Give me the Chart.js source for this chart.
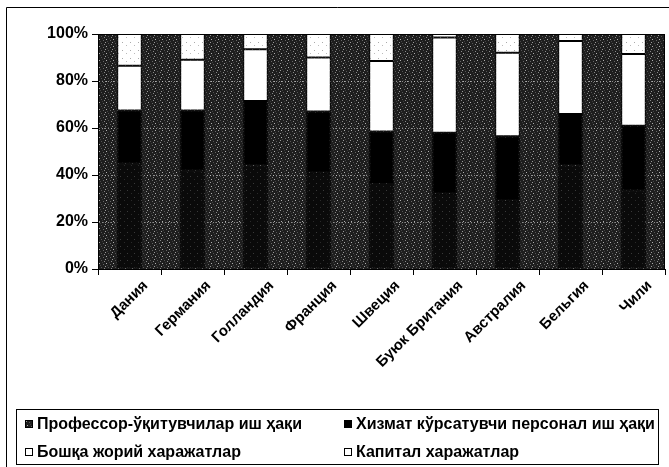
<!DOCTYPE html>
<html>
<head>
<meta charset="utf-8">
<script src="https://cdn.jsdelivr.net/npm/chart.js@4.4.0/dist/chart.umd.min.js"></script>
<style>
  html, body { margin: 0; padding: 0; background: #fff; }
  #wrap { position: relative; width: 669px; height: 467px; overflow: hidden; font-family: "Liberation Sans", Arial, sans-serif; }
  #c { position: absolute; left: 0; top: 0; }
  #legend { position: absolute; left: 16px; top: 409px; width: 643px; height: 56px; border: 1px solid #000; box-sizing: border-box; }
  .li { position: absolute; height: 20px; line-height: 20px; font-size: 16px; font-weight: bold; color: #000; white-space: nowrap; }
  .sw { position: absolute; width: 8px; height: 8px; border: 1px solid #000; box-sizing: border-box; top: 6px; left: 0; }
  .tx { position: absolute; left: 12px; top: 0; }
</style>
</head>
<body>
<div id="wrap">
  <canvas id="c" width="669" height="467" style="width:669px;height:467px"></canvas>
  <div id="legend"></div>
</div>
<script>
// ---- data ----
const categories = ['Дания','Германия','Голландия','Франция','Швеция','Буюк Британия','Австралия','Бельгия','Чили'];
const seriesNames = ['Профессор-ўқитувчилар иш ҳақи','Хизмат кўрсатувчи персонал иш ҳақи','Бошқа жорий харажатлар','Капитал харажатлар'];
const professor = [45, 42, 44, 41, 37, 32, 29, 44, 33.5];
const service   = [22.5, 25.5, 27.5, 26, 21.5, 26, 27.5, 22, 27.5];
const other     = [19, 21.5, 22, 23, 30, 40.5, 35.5, 31, 30.5];
const capital   = [13.5, 11, 6.5, 10, 11.5, 1.5, 8, 3, 8.5];
const yTicks = [0, 20, 40, 60, 80, 100];

// ---- fill textures (fixed dot layouts) ----
function makeTile(size, base, dots) {
  const t = document.createElement('canvas');
  t.width = size; t.height = size;
  const g = t.getContext('2d');
  g.fillStyle = base; g.fillRect(0, 0, size, size);
  dots.forEach(d => { g.fillStyle = d[2]; g.fillRect(d[0], d[1], 1, 1); });
  return t;
}
const bgTile = makeTile(7, '#1e1e1e', [[0,0,'#9a9a9a'],[3,1,'#555'],[1,4,'#b0b0b0'],[5,5,'#666'],[2,6,'#444'],[6,2,'#888'],[4,3,'#3a3a3a']]);
const profTile = makeTile(7, '#0a0a0a', [[1,1,'#3a3a3a'],[5,4,'#2a2a2a']]);
const capTile = makeTile(8, '#ffffff', [[2,2,'#aaaaaa'],[6,5,'#bbbbbb']]);
const ctx = document.getElementById('c').getContext('2d');
const bgPat = ctx.createPattern(bgTile, 'repeat');
const profPat = ctx.createPattern(profTile, 'repeat');
const capPat = ctx.createPattern(capTile, 'repeat');

const fills = [profPat, '#000000', '#ffffff', capPat];
const swatches = [bgTile.toDataURL(), null, null, null];
const swColors = ['#444444', '#000000', '#ffffff', '#ffffff'];
const values = [professor, service, other, capital];

const plotBg = {
  id: 'plotBg',
  beforeDraw(chart) {
    const a = chart.chartArea, c = chart.ctx;
    c.save();
    c.fillStyle = bgPat;
    c.fillRect(a.left, a.top, a.right - a.left, a.bottom - a.top);
    c.restore();
  },
  afterDraw(chart) {
    const a = chart.chartArea, c = chart.ctx;
    c.save();
    c.strokeStyle = '#000'; c.lineWidth = 1;
    c.strokeRect(Math.round(a.left) + 0.5, Math.round(a.top) + 0.5, Math.round(a.right - a.left) - 1, Math.round(a.bottom - a.top));
    // outer frame
    c.beginPath();
    c.moveTo(6.5, 467); c.lineTo(6.5, 7.5); c.lineTo(669, 7.5);
    c.stroke();
    c.restore();
  }
};

new Chart(ctx, {
  type: 'bar',
  data: {
    labels: categories,
    datasets: values.map((v, i) => ({
      label: seriesNames[i],
      data: v,
      backgroundColor: fills[i],
      borderColor: '#000',
      borderWidth: 1,
      borderSkipped: false,
      categoryPercentage: 1.0,
      barPercentage: 0.39
    }))
  },
  options: {
    responsive: false,
    animation: false,
    devicePixelRatio: 1,
    layout: { padding: { top: 34, right: 4, left: 0, bottom: 0 } },
    plugins: { legend: { display: false }, tooltip: { enabled: false } },
    scales: {
      x: {
        stacked: true,
        afterFit(s) { s.height = 467 - 269; },
        grid: { display: true, drawOnChartArea: false, offset: true, tickLength: 6, tickColor: '#000', tickWidth: 1 },
        border: { display: true, color: '#000', width: 1 },
        ticks: {
          color: '#000', maxRotation: 45, minRotation: 45, autoSkip: false, padding: 2, labelOffset: 16,
          font: { family: '"Liberation Sans", Arial, sans-serif', size: 15, weight: 'bold' }
        }
      },
      y: {
        stacked: true,
        min: 0, max: 100,
        afterFit(s) { s.width = 98; },
        afterBuildTicks(s) { s.ticks = yTicks.map(v => ({ value: v })); },
        grid: { color: 'rgba(215,215,215,0.6)', lineWidth: 1, tickLength: 6, tickColor: '#000', tickWidth: 1 },
        border: { display: true, color: '#000', width: 1, dash: [1, 2] },
        ticks: {
          color: '#000', padding: 4,
          callback: v => v + '%',
          font: { family: '"Liberation Sans", Arial, sans-serif', size: 16, weight: 'bold' }
        }
      }
    }
  },
  plugins: [plotBg]
});

// ---- legend (HTML) ----
const legend = document.getElementById('legend');
const pos = [[8, 4], [327, 4], [8, 32], [327, 32]];
[0, 1, 2, 3].forEach((si, k) => {
  const it = document.createElement('div');
  it.className = 'li';
  it.style.left = pos[k][0] + 'px';
  it.style.top = pos[k][1] + 'px';
  const sw = document.createElement('span');
  sw.className = 'sw';
  sw.style.backgroundColor = swColors[si];
  if (swatches[si]) sw.style.backgroundImage = 'url(' + swatches[si] + ')';
  const tx = document.createElement('span');
  tx.className = 'tx';
  tx.textContent = seriesNames[si];
  it.appendChild(sw); it.appendChild(tx);
  legend.appendChild(it);
});
</script>
</body>
</html>
